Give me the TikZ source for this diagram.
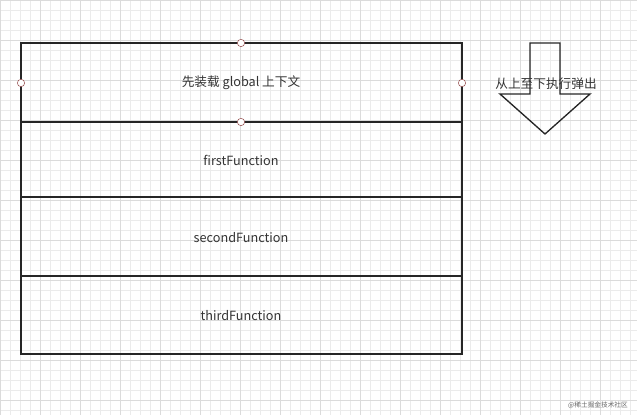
\documentclass[tikz,border=0pt]{standalone}
\usepackage{fontspec}
\setmainfont{Noto Sans CJK SC}
\begin{document}
\begin{tikzpicture}[x=0.75pt,y=-0.75pt,
  cell/.style={draw=black!85,line width=1pt},
  lbl/.style={font=\fontsize{9.5}{11}\selectfont,text=black!80},
  hnd/.style={circle,draw=black!60!red!70,fill=white,inner sep=0pt,minimum size=5.5pt}]
\useasboundingbox (0,0) rectangle (637,415);
\foreach \i in {0,10,...,630} \draw[black!8,line width=0.4pt] (\i,0) -- (\i,415);
\foreach \i in {0,10,...,410} \draw[black!8,line width=0.4pt] (0,\i) -- (637,\i);
\foreach \i in {0,40,...,630} \draw[black!14,line width=0.4pt] (\i,0) -- (\i,415);
\foreach \i in {0,40,...,410} \draw[black!14,line width=0.4pt] (0,\i) -- (637,\i);
\draw[cell] (21,43) rectangle (462,122);
\draw[cell] (21,122) rectangle (462,197);
\draw[cell] (21,197) rectangle (462,276);
\draw[cell] (21,276) rectangle (462,354);
\node[lbl] (g) at (241,83) {先装载 global 上下文};
\node[lbl] (f1) at (241,160) {firstFunction};
\node[lbl] (f2) at (241,238) {secondFunction};
\node[lbl] (f3) at (241,316) {thirdFunction};
\node[hnd] (h1) at (241,43) {};
\node[hnd] (h2) at (241,122) {};
\node[hnd] (h3) at (21,83) {};
\node[hnd] (h4) at (462,83) {};
\draw[cell] (530,43) -- (560,43) -- (560,94) -- (590,94) -- (545,134) -- (500,94) -- (530,94) -- cycle;
\node[lbl] (t) at (546,84) {从上至下执行弹出};
\node[font=\fontsize{5}{6}\selectfont,text=black!60] (w) at (598,405) {@稀土掘金技术社区};
\end{tikzpicture}
\end{document}
